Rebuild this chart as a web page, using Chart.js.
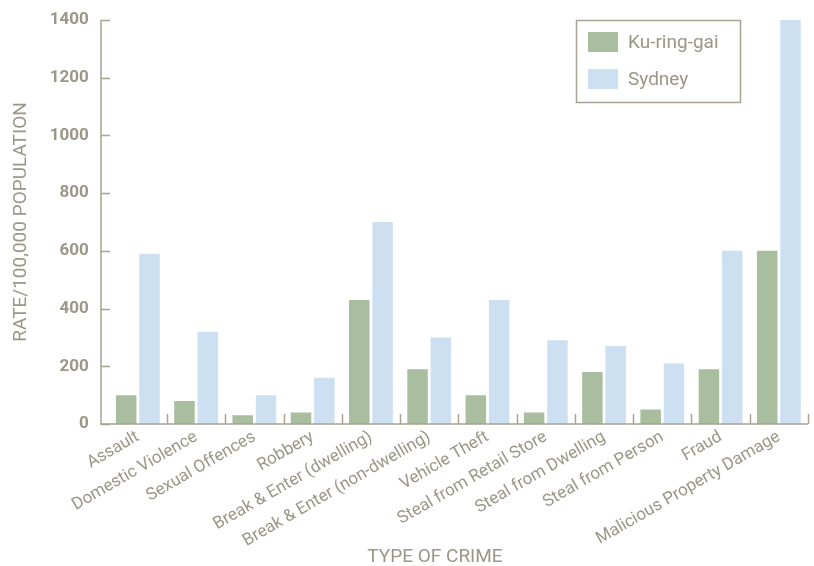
<!DOCTYPE html>
<html>
<head>
<meta charset="utf-8">
<script src="https://cdn.jsdelivr.net/npm/chart.js@4/dist/chart.umd.min.js"></script>
<style>
  html, body { margin: 0; padding: 0; background: #fff; }
  #wrap { width: 814px; height: 566px; }
</style>
</head>
<body>
<div id="wrap"><canvas id="myChart" width="814" height="566"></canvas></div>
<script>
// crime categories along the x axis
const crimeTypes = [
    "Assault", "Domestic Violence", "Sexual Offences", "Robbery",
    "Break & Enter (dwelling)", "Break & Enter (non-dwelling)", "Vehicle Theft",
    "Steal from Retail Store", "Steal from Dwelling", "Steal from Person",
    "Fraud", "Malicious Property Damage"
];

// rate per 100,000 population
const kuringgaiRates = [100, 80, 30, 40, 430, 190, 100, 40, 180, 50, 190, 600];
const sydneyRates = [590, 320, 100, 160, 700, 300, 430, 290, 270, 210, 600, 1400];

const yTicks = [0, 200, 400, 600, 800, 1000, 1200, 1400];

const axisColor = "#a8a393";
const textColor = "#9b9686";
const fontName = "Roboto";
const axisX = 101; // y axis line sits a bit left of the first category

// axis lines + short tick marks pointing inward, like the original
const axisLines = {
    id: "axisLines",
    afterDatasetsDraw(chart) {
        const ctx = chart.ctx;
        const x = chart.scales.x;
        const y = chart.scales.y;
        const area = chart.chartArea;
        ctx.save();
        ctx.strokeStyle = axisColor;
        ctx.lineWidth = 1.5;
        ctx.beginPath();
        ctx.moveTo(axisX, area.top);
        ctx.lineTo(axisX, area.bottom);
        ctx.lineTo(area.right, area.bottom);
        ctx.stroke();
        // x ticks between categories
        const step = x.getPixelForValue(1) - x.getPixelForValue(0);
        for (let i = 0; i < crimeTypes.length; i++) {
            const px = Math.round(x.getPixelForValue(i) + step / 2) + 0.5;
            ctx.beginPath();
            ctx.moveTo(px, area.bottom);
            ctx.lineTo(px, area.bottom - 10);
            ctx.stroke();
        }
        // y ticks
        yTicks.forEach(v => {
            const py = Math.round(y.getPixelForValue(v)) + 0.5;
            ctx.beginPath();
            ctx.moveTo(axisX, py);
            ctx.lineTo(axisX + 9, py);
            ctx.stroke();
        });
        ctx.restore();
    }
};

// boxed legend in the top right, and the x axis title
const boxLegend = {
    id: "boxLegend",
    afterDraw(chart) {
        const ctx = chart.ctx;
        const left = 576.5, top = 20.5, w = 164, h = 82;
        ctx.save();
        ctx.strokeStyle = axisColor;
        ctx.lineWidth = 1.5;
        ctx.strokeRect(left, top, w, h);
        ctx.font = "19px " + fontName;
        ctx.textBaseline = "middle";
        chart.data.datasets.forEach((ds, i) => {
            const yy = 32 + i * 37;
            ctx.fillStyle = ds.backgroundColor;
            ctx.fillRect(588, yy, 30, 20);
            ctx.fillStyle = textColor;
            ctx.fillText(ds.label, 628, yy + 11);
        });
        ctx.font = "19px " + fontName;
        ctx.textAlign = "center";
        ctx.fillText("TYPE OF CRIME", 435, 557);
        ctx.restore();
    }
};

const ctx = document.getElementById("myChart").getContext("2d");
const myChart = new Chart(ctx, {
    type: "bar",
    data: {
        labels: crimeTypes,
        datasets: [{
            label: "Ku-ring-gai",
            data: kuringgaiRates,
            backgroundColor: "#a9bd9f"
        }, {
            label: "Sydney",
            data: sydneyRates,
            backgroundColor: "#cde0f2"
        }]
    },
    options: {
        responsive: false,
        animation: false,
        layout: { padding: { top: 20, right: 6, left: 0, bottom: 0 } },
        plugins: {
            legend: { display: false },
            tooltip: { enabled: false }
        },
        datasets: {
            bar: { categoryPercentage: 0.8, barPercentage: 0.88 }
        },
        scales: {
            x: {
                afterFit: s => { s.height = 142; s.paddingLeft = 0; s.paddingRight = 0; },
                grid: { display: false, drawTicks: false },
                border: { display: false },
                ticks: {
                    color: textColor,
                    font: { family: fontName, size: 17 },
                    minRotation: 30,
                    maxRotation: 30,
                    autoSkip: false,
                    padding: 3
                }
            },
            y: {
                min: 0,
                max: 1400,
                afterFit: s => { s.width = 108.7; s.paddingTop = 0; s.paddingBottom = 0; },
                afterBuildTicks: s => { s.ticks = yTicks.map(v => ({ value: v })); },
                grid: { display: false, drawTicks: false },
                border: { display: false },
                ticks: {
                    color: textColor,
                    font: { family: fontName, size: 17, weight: "bold" },
                    padding: 20,
                    callback: v => String(v)
                },
                title: {
                    display: true,
                    text: "RATE/100,000 POPULATION",
                    color: textColor,
                    font: { family: fontName, size: 19 },
                    padding: { top: 10, bottom: 0 }
                }
            }
        }
    },
    plugins: [axisLines, boxLegend]
});
</script>
</body>
</html>
